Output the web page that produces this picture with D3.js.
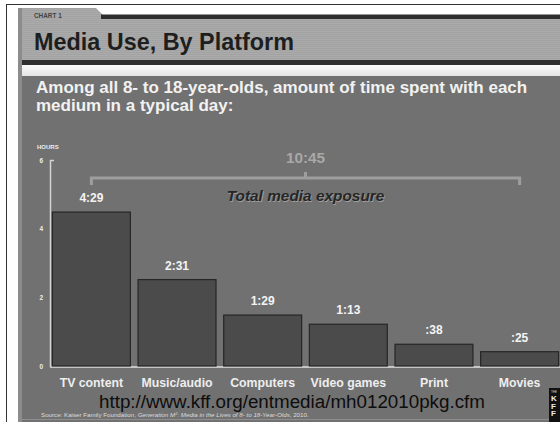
<!DOCTYPE html>
<html>
<head>
<meta charset="utf-8">
<script src="https://cdn.jsdelivr.net/npm/d3@7"></script>
<style>
  body { margin: 0; background: #fff; }
  svg { display: block; }
</style>
</head>
<body>
<div id="chart"></div>
<script>
"use strict";
(function() {

const WIDTH = 560
const HEIGHT = 422
const FONT = '"Liberation Sans", Arial, Helvetica, sans-serif'

// data (minutes per day)
const categories = ["TV content", "Music/audio", "Computers", "Video games", "Print", "Movies"]
const minutes = [269, 151, 89, 73, 38, 25]
const yTicks = [0, 2, 4, 6]

const TITLE = "Media Use, By Platform"
const SUBTITLE = ["Among all 8- to 18-year-olds, amount of time spent with each",
                  "medium in a typical day:"]
const URL = "http://www.kff.org/entmedia/mh012010pkg.cfm"

const BG = '#717171'
const BAR = '#4b4b4b'

var svg = d3.select("#chart").append("svg")
    .attr("width", WIDTH)
    .attr("height", HEIGHT)
    .style("font-family", FONT)

function fmt(m) {
    let h = Math.floor(m / 60), mm = m % 60
    return (h ? h : "") + ":" + String(mm).padStart(2, "0")
}

function drawFrame() {
    let defs = svg.append("defs")
    let pat = defs.append("pattern").attr("id", "stripes")
        .attr("width", 4).attr("height", 2).attr("patternUnits", "userSpaceOnUse")
    pat.append("rect").attr("width", 4).attr("height", 2).attr("fill", "#ababab")
    pat.append("rect").attr("width", 4).attr("height", 1).attr("fill", "#a2a2a2")

    let grad = defs.append("linearGradient").attr("id", "strip")
        .attr("x1", 0).attr("y1", 0).attr("x2", 0).attr("y2", 1)
    grad.append("stop").attr("offset", 0).attr("stop-color", "#fafafa")
    grad.append("stop").attr("offset", 1).attr("stop-color", "#e4e4e4")

    svg.append("rect").attr("width", WIDTH).attr("height", HEIGHT).attr("fill", "#fff")
    svg.append("line").attr("x1", 6).attr("x2", WIDTH).attr("y1", 4.5).attr("y2", 4.5)
        .attr("stroke", "#333")
    svg.append("line").attr("x1", 6.5).attr("x2", 6.5).attr("y1", 4).attr("y2", HEIGHT)
        .attr("stroke", "#333")
    svg.append("rect").attr("x", 18).attr("y", 8).attr("width", 4).attr("height", HEIGHT - 8)
        .attr("fill", "#8c8c8c")

    // header band with the tab
    svg.append("path")
        .attr("d", `M22,8 L96,8 L103,15 L${WIDTH},15 L${WIDTH},61 L22,61 Z`)
        .attr("fill", "url(#stripes)")
    svg.append("rect").attr("x", 101).attr("y", 14.5).attr("width", WIDTH - 101).attr("height", 4.5)
        .attr("fill", "#2e2e2e")
    svg.append("rect").attr("x", 22).attr("y", 60).attr("width", WIDTH - 22).attr("height", 5)
        .attr("fill", "#2e2e2e")
    svg.append("rect").attr("x", 22).attr("y", 65).attr("width", WIDTH - 22).attr("height", 11)
        .attr("fill", "url(#strip)")
    svg.append("rect").attr("x", 22).attr("y", 76).attr("width", WIDTH - 22).attr("height", HEIGHT - 76)
        .attr("fill", BG)
    svg.append("line").attr("x1", 22).attr("x2", WIDTH).attr("y1", 419.5).attr("y2", 419.5)
        .attr("stroke", "#8e8e8e")

    svg.append("text").text("CHART 1")
        .attr("x", 34).attr("y", 18)
        .attr("font-size", "6.4px").attr("font-weight", "bold").attr("fill", "#444")
    svg.append("text").text(TITLE)
        .attr("x", 34).attr("y", 50)
        .attr("font-size", "23.4px").attr("font-weight", "bold").attr("fill", "#1e1e1e")

    svg.selectAll("text.sub").data(SUBTITLE).join("text")
        .attr("class", "sub")
        .text(d => d)
        .attr("x", 36).attr("y", (d, i) => 93 + i * 17.5)
        .attr("font-size", "17px").attr("font-weight", "bold").attr("fill", "#f2f2f2")
}

function drawLogo() {
    svg.append("rect").attr("x", 549).attr("y", 388).attr("width", 11).attr("height", 34)
        .attr("fill", "#111")
    svg.append("text").text("THE").attr("x", 551).attr("y", 393)
        .attr("font-size", "3px").attr("fill", "#ddd")
    svg.selectAll("text.logo").data(["K", "F", "F"]).join("text")
        .attr("class", "logo")
        .text(d => d)
        .attr("x", 551).attr("y", (d, i) => 401 + i * 7.5)
        .attr("font-size", "8px").attr("font-weight", "bold").attr("fill", "#eee")
}

// scales
let x_scale = d3.scaleBand().domain(categories)
    .range([49, 562]).paddingInner(0.09).paddingOuter(0.04)
let y_scale = d3.scaleLinear().domain([0, 6]).range([366, 160])

function drawAxes() {
    svg.append("text").text("HOURS")
        .attr("x", 37).attr("y", 149)
        .attr("font-size", "6px").attr("font-weight", "bold").attr("fill", "#eee")

    let ax = svg.append("g")
        .attr("transform", `translate(50,0)`)
        .call(d3.axisLeft(y_scale).tickValues(yTicks).tickFormat(d3.format("d"))
            .tickSizeInner(0).tickSizeOuter(-4).tickPadding(7))
    ax.select(".domain").attr("stroke", "#d4d4d4").attr("stroke-width", 1.5)
    ax.selectAll(".tick text")
        .attr("font-family", FONT).attr("font-size", "6.5px").attr("font-weight", "bold")
        .attr("fill", "#eee")

    svg.append("g")
        .attr("transform", `translate(0,${y_scale(0) + 1})`)
        .call(d3.axisBottom(x_scale).tickSize(0).tickPadding(11))
        .call(g => g.select(".domain").attr("d", `M50,0H${WIDTH}`)
            .attr("stroke", "#c6c6c6").attr("stroke-width", 2))
        .call(g => g.selectAll(".tick text")
            .attr("font-family", FONT).attr("font-size", "12.3px").attr("font-weight", "bold")
            .attr("fill", "#eeeeee"))
}

function drawBars() {
    svg.selectAll("rect.bar").data(minutes).join("rect")
        .attr("class", "bar")
        .attr("x", (d, i) => x_scale(categories[i]))
        .attr("width", x_scale.bandwidth())
        .attr("y", d => y_scale(d / 60))
        .attr("height", d => y_scale(0) - y_scale(d / 60))
        .attr("fill", BAR)
        .attr("stroke", "#262626")
        .attr("stroke-width", 1.2)

    svg.selectAll("text.val").data(minutes).join("text")
        .attr("class", "val")
        .text(d => fmt(d))
        .attr("x", (d, i) => x_scale(categories[i]) + x_scale.bandwidth() / 2)
        .attr("y", d => y_scale(d / 60) - 10)
        .attr("text-anchor", "middle")
        .attr("font-size", "12px").attr("font-weight", "bold").attr("fill", "#f4f4f4")
}

function drawTotal() {
    let bw = x_scale.bandwidth()
    let x1 = x_scale(categories[0]) + bw / 2
    let x2 = x_scale(categories[categories.length - 1]) + bw / 2
    let mid = (x1 + x2) / 2
    let yb = 178
    let total = d3.sum(minutes)

    svg.append("path")
        .attr("d", `M${x1},${yb + 7}V${yb}H${x2}V${yb + 7}M${mid},${yb}V${yb - 6}`)
        .attr("fill", "none").attr("stroke", "#9e9e9e").attr("stroke-width", 3)

    svg.append("text").text(fmt(total))
        .attr("x", mid).attr("y", 163).attr("text-anchor", "middle")
        .attr("font-size", "15.3px").attr("font-weight", "bold").attr("fill", "#a8a8a8")

    // label with a light drop shadow
    ;[["#a0a0a0", 0.8], ["#262626", 0]].forEach(([c, o]) => {
        svg.append("text").text("Total media exposure")
            .attr("x", mid + o).attr("y", 201 + o).attr("text-anchor", "middle")
            .attr("font-size", "15.4px").attr("font-weight", "bold").attr("font-style", "italic")
            .attr("fill", c)
    })
}

function drawFooter() {
    svg.append("text").text(URL)
        .attr("x", 99).attr("y", 408)
        .attr("font-size", "18.8px").attr("fill", "#0d0d0d")

    let src = svg.append("text")
        .attr("x", 41).attr("y", 417)
        .attr("font-size", "6.2px").attr("fill", "#dcdcdc")
    src.append("tspan").text("Source: Kaiser Family Foundation, ")
    src.append("tspan").text("Generation M").attr("font-style", "italic")
    src.append("tspan").text("2").attr("font-style", "italic").attr("font-size", "4px").attr("dy", -2)
    src.append("tspan").text(": Media in the Lives of 8- to 18-Year-Olds")
        .attr("font-style", "italic").attr("dy", 2)
    src.append("tspan").text(", 2010.")
}

drawFrame()
drawAxes()
drawBars()
drawTotal()
drawFooter()
drawLogo()

})();
</script>
</body>
</html>
